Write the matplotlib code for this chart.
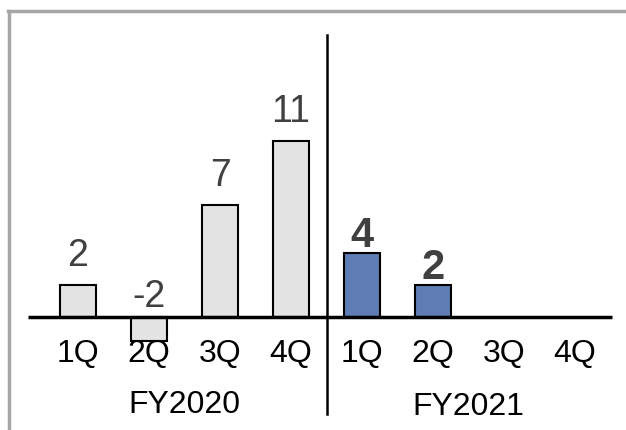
import matplotlib
matplotlib.use("Agg")
import matplotlib.pyplot as plt
from matplotlib.lines import Line2D

quarters = ['1Q', '2Q', '3Q', '4Q', '1Q', '2Q', '3Q', '4Q']
years = ['FY2020', 'FY2021']
fy2020_vals = [2, -1.5, 7, 11]
fy2020_labels = ['2', '-2', '7', '11']
fy2021_vals = [4, 2]
fy2021_labels = ['4', '2']

plt.rcParams['font.family'] = ['Liberation Sans', 'DejaVu Sans']

fig = plt.figure(figsize=(6.26, 4.31), dpi=100)
ax = fig.add_axes([0, 0, 1, 1])
# pixel mapping: x=0 at 78px, 71px per slot; baseline 113px from bottom, 16px per unit
ax.set_xlim(-78 / 71, (626 - 78) / 71)
ax.set_ylim(-113 / 16, (431 - 113) / 16)
ax.axis('off')

w = 0.507
x20 = list(range(4))
x21 = [4, 5]
ax.bar(x20, fy2020_vals, width=w, color='#e3e3e3', edgecolor='black', linewidth=1.5, zorder=2)
ax.bar(x21, fy2021_vals, width=w, color='#5f7db5', edgecolor='black', linewidth=1.5, zorder=2)

for x, v, t in zip(x20, fy2020_vals, fy2020_labels):
    off = 12 if v > 0 else 3
    ax.annotate(t, (x, max(v, 0)), xytext=(0, off), textcoords='offset pixels',
                ha='center', va='bottom', fontsize=27, color='#404040')
for x, v, t in zip(x21, fy2021_vals, fy2021_labels):
    ax.annotate(t, (x, v), xytext=(0, -2), textcoords='offset pixels',
                ha='center', va='bottom', fontsize=30, fontweight='bold', color='#404040')

# baseline and divider
ax.plot([-0.70, 7.52], [0, 0], color='black', linewidth=2.5, zorder=3, solid_capstyle='butt')
ax.plot([3.5, 3.5], [(431 - 113 - 36) / 16, -(415 - 318) / 16], color='black', linewidth=1.8, zorder=3)

for i, q in enumerate(quarters):
    ax.text(i, -(354 - 318) / 16, q, ha='center', va='center', fontsize=23, color='black')
ax.text(1.5, -(405 - 318) / 16, years[0], ha='center', va='center', fontsize=23, color='black')
ax.text(5.5, -(407 - 318) / 16, years[1], ha='center', va='center', fontsize=23, color='black')

# outer grey frame (only top and left edges visible)
fig.add_artist(Line2D([9 / 626, 9 / 626], [0, 1 - 12 / 431], transform=fig.transFigure,
                      color='#a6a6a6', linewidth=2.5))
fig.add_artist(Line2D([8 / 626, 1], [1 - 12 / 431, 1 - 12 / 431], transform=fig.transFigure,
                      color='#a6a6a6', linewidth=2.5))

fig.savefig('out.png', dpi=100)
